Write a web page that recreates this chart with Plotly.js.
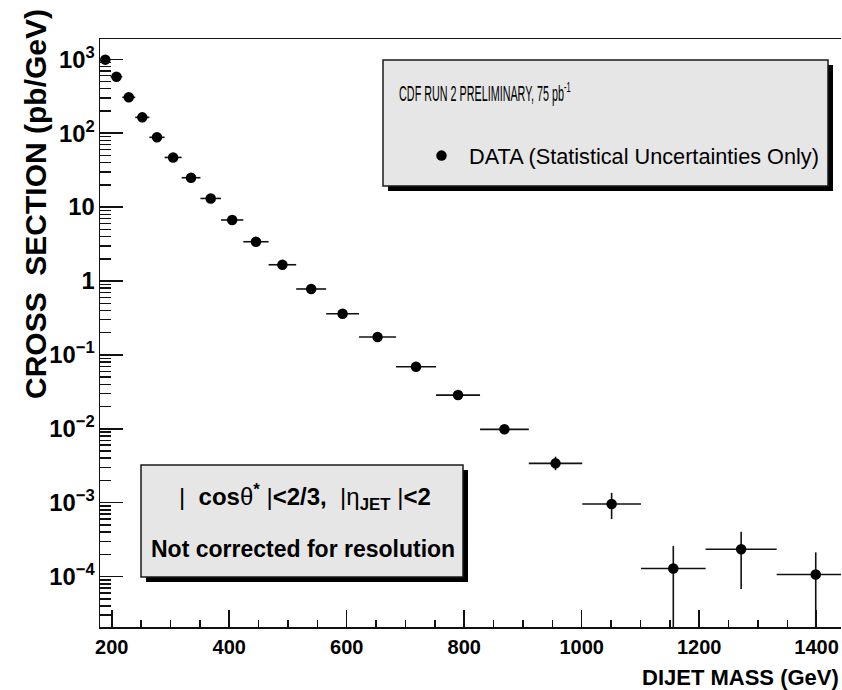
<!DOCTYPE html>
<html>
<head>
<meta charset="utf-8">
<script src="https://cdn.plot.ly/plotly-3.0.1.min.js"></script>
<style>
  html, body { margin: 0; padding: 0; background: #ffffff; }
  #chart { width: 842px; height: 690px; }
</style>
</head>
<body>
<div id="chart"></div>
<script>
// ---- data ----
// dijet mass bin edges (GeV)
const massEdges = [180, 198, 218, 240, 264, 290, 319, 351, 386, 424, 467, 514,
                   565, 621, 684, 752, 827, 910, 1001, 1101, 1211, 1332, 1465];
// cross section (pb/GeV)
const xsec = [990, 582, 306, 164, 88, 47, 25, 13.1, 6.7, 3.4, 1.66, 0.78,
              0.361, 0.175, 0.0693, 0.0286, 0.00984, 0.00341, 0.00096,
              0.000129, 0.000234, 0.000107];
// statistical uncertainties (pb/GeV)
const errUp = [8, 5, 3, 1.8, 1.0, 0.6, 0.35, 0.2, 0.12, 0.07, 0.04, 0.022,
               0.012, 0.007, 0.004, 0.0025, 0.0012, 0.00078, 0.0004,
               0.00013, 0.000171, 0.000106];
const errDown = [8, 5, 3, 1.8, 1.0, 0.6, 0.35, 0.2, 0.12, 0.07, 0.04, 0.022,
                 0.012, 0.007, 0.004, 0.0025, 0.0012, 0.00065, 0.00036,
                 0.000126, 0.000166, 0.000105];

const legendHeader = 'CDF RUN 2 PRELIMINARY, 75 pb<sup>-1</sup>';
const seriesName = 'DATA (Statistical Uncertainties Only)';
const cutText = '|\u00a0\u00a0<b>cos</b>\u03b8<sup><b>*</b></sup>\u00a0|<b>&lt;2/3,</b>\u00a0\u00a0|\u03b7<sub><b>JET</b></sub>\u00a0|<b>&lt;2</b>';
const noteText = '<b>Not corrected for resolution</b>';
const xTitle = 'DIJET MASS (GeV)';
const yTitle = 'CROSS\u00a0\u00a0SECTION (pb/GeV)';

// bin centres / half widths built from the edges
const massCenter = [], massHalf = [];
for (let i = 0; i < massEdges.length - 1; i++) {
  massCenter.push((massEdges[i] + massEdges[i + 1]) / 2);
  massHalf.push((massEdges[i + 1] - massEdges[i]) / 2);
}

// ---- layout geometry ----
const W = 842, H = 690;
const M = {l: 100, r: 1, t: 39, b: 63};
const PW = W - M.l - M.r, PH = H - M.t - M.b;
const px = x => (x - M.l) / PW;        // pixel -> paper x
const py = y => (H - M.b - y) / PH;    // pixel -> paper y

const FONT = '"Liberation Sans", Arial, Helvetica, sans-serif';
const INK = '#111111';

const trace = {
  type: 'scatter',
  mode: 'markers',
  name: seriesName,
  x: massCenter,
  y: xsec,
  marker: {color: '#000000', size: 10.5, symbol: 'circle'},
  error_x: {type: 'data', array: massHalf, symmetric: true, color: INK, thickness: 1.6, width: 0},
  error_y: {type: 'data', array: errUp, arrayminus: errDown, symmetric: false, color: INK, thickness: 1.6, width: 0},
  showlegend: true,
  hoverinfo: 'skip'
};

function boxShapes(x0, y0, x1, y1, off) {
  return [
    {type: 'rect', xref: 'paper', yref: 'paper', layer: 'above',
     x0: px(x0 + off), x1: px(x1 + off), y0: py(y0 + off), y1: py(y1 + off),
     fillcolor: '#000000', line: {width: 0}},
    {type: 'rect', xref: 'paper', yref: 'paper', layer: 'above',
     x0: px(x0), x1: px(x1), y0: py(y0), y1: py(y1),
     fillcolor: '#e6e6e6', line: {color: '#1a1a1a', width: 1.5}}
  ];
}

const layout = {
  width: W, height: H,
  margin: M,
  paper_bgcolor: '#ffffff',
  plot_bgcolor: '#ffffff',
  font: {family: FONT, color: '#000000'},
  showlegend: true,
  legend: {
    x: px(414), xanchor: 'left',
    y: py(156), yanchor: 'middle',
    bgcolor: 'rgba(0,0,0,0)', borderwidth: 0,
    itemwidth: 45,
    font: {family: FONT, size: 21.7, color: '#000000'}
  },
  xaxis: {
    type: 'linear',
    range: [180, 1441.5],
    tick0: 0, dtick: 200,
    ticks: 'inside', ticklen: 17, tickwidth: 1.5, tickcolor: INK,
    minor: {ticks: 'inside', dtick: 50, ticklen: 7.5, tickwidth: 1.5, tickcolor: INK, showgrid: false},
    showline: true, linecolor: INK, linewidth: 1.5, mirror: true,
    showgrid: false, zeroline: false,
    ticklabelstandoff: 1,
    tickfont: {family: FONT, size: 20, weight: 'bold', color: '#000000'}
  },
  yaxis: {
    type: 'log',
    range: [-4.682, 3.275],
    dtick: 1,
    exponentformat: 'power',
    ticks: 'inside', ticklen: 23, tickwidth: 1.5, tickcolor: INK,
    minor: {ticks: 'inside', dtick: 'D1', ticklen: 11, tickwidth: 1.5, tickcolor: INK, showgrid: false},
    showline: true, linecolor: INK, linewidth: 1.5, mirror: false,
    showgrid: false, zeroline: false,
    ticklabelstandoff: 0,
    tickfont: {family: FONT, size: 19, weight: 'bold', color: '#000000'}
  },
  shapes: [].concat(
    boxShapes(383, 60, 828, 186, 5),
    boxShapes(141, 465, 463, 577, 5)
  ),
  annotations: [
    {xref: 'paper', yref: 'paper', x: px(397), y: py(92), xanchor: 'left', yanchor: 'middle',
     text: legendHeader, showarrow: false, font: {family: FONT, size: 22, color: '#000000'}},
    {xref: 'paper', yref: 'paper', x: px(305), y: py(497), xanchor: 'center', yanchor: 'middle',
     text: cutText, showarrow: false, font: {family: FONT, size: 24, color: '#000000'}},
    {xref: 'paper', yref: 'paper', x: px(303), y: py(549), xanchor: 'center', yanchor: 'middle',
     text: noteText, showarrow: false, font: {family: FONT, size: 23, color: '#000000'}},
    {xref: 'paper', yref: 'paper', x: px(841), y: py(677), xanchor: 'right', yanchor: 'middle',
     text: '<b>' + xTitle + '</b>', showarrow: false, font: {family: FONT, size: 22, color: '#000000'}},
    {xref: 'paper', yref: 'paper', x: px(36), y: py(7), xanchor: 'center', yanchor: 'top',
     textangle: -90,
     text: '<b>' + yTitle + '</b>', showarrow: false, font: {family: FONT, size: 30, color: '#000000'}}
  ]
};

Plotly.newPlot('chart', [trace], layout, {displayModeBar: false, staticPlot: true}).then(gd => {
  // the header line of the legend box is drawn in a strongly condensed face in the original
  gd.querySelectorAll('.annotation-text').forEach(t => {
    if (t.textContent.indexOf('CDF') === 0) {
      t.style.transformBox = 'fill-box';
      t.style.transformOrigin = '0% 50%';
      t.style.transform = 'scaleX(0.49)';
    }
  });
});
</script>
</body>
</html>
